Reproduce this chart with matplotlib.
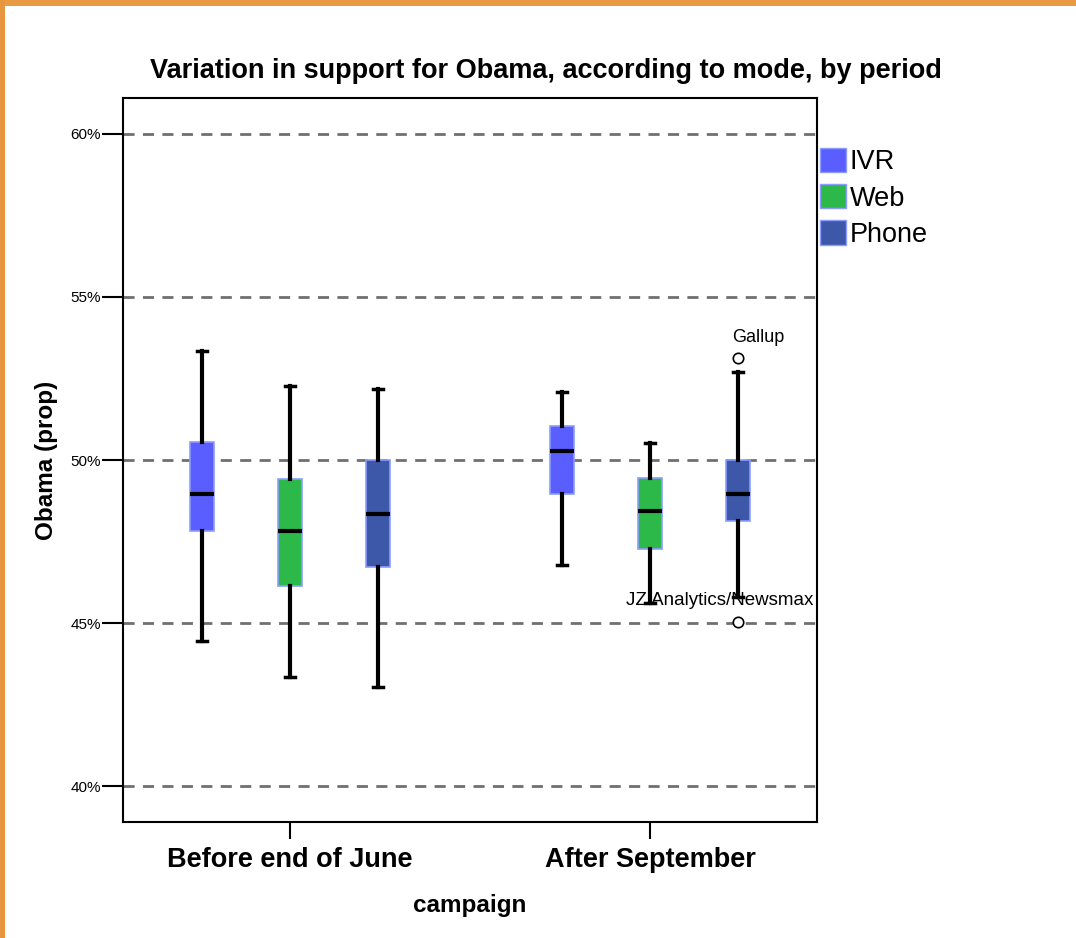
import matplotlib
matplotlib.use("Agg")
import matplotlib.pyplot as plt
from matplotlib.patches import Rectangle, Patch
from matplotlib.ticker import FuncFormatter

plt.rcParams['font.family'] = ['Liberation Sans', 'DejaVu Sans']

# Data (proportion supporting Obama, in %)
periods = ["Before end of June", "After September"]
modes = ["IVR", "Web", "Phone"]
mode_colors = ["#5B5EFF", "#2DB84A", "#3D58A8"]

# per period, per mode: (whisker low, Q1, median, Q3, whisker high)
june_stats = {
    "IVR":   (44.46, 47.81, 48.95, 50.56, 53.33),
    "Web":   (43.34, 46.14, 47.83, 49.42, 52.26),
    "Phone": (43.03, 46.73, 48.33, 50.01, 52.17),
}
sept_stats = {
    "IVR":   (46.78, 48.96, 50.28, 51.04, 52.09),
    "Web":   (45.60, 47.28, 48.43, 49.46, 50.53),
    "Phone": (45.79, 48.12, 48.97, 50.00, 52.69),
}
# labelled outliers: (period index, mode, value, label)
outliers = [
    (1, "Phone", 53.12, "Gallup"),
    (1, "Phone", 45.02, "JZ Analytics/Newsmax"),
]

yticks = [40, 45, 50, 55, 60]

fig = plt.figure(figsize=(10.76, 9.38), dpi=100)
ax = fig.add_axes([123 / 1076, 116 / 938, 694 / 1076, 724 / 938])

offsets = [-0.2444, 0.0, 0.2444]
box_w = 0.067

all_stats = [june_stats, sept_stats]
for pi, stats in enumerate(all_stats):
    for mi, mode in enumerate(modes):
        lo, q1, med, q3, hi = stats[mode]
        fl = [v for (p, m, v, _) in outliers if p == pi and m == mode]
        s = dict(whislo=lo, q1=q1, med=med, q3=q3, whishi=hi, fliers=fl)
        ax.bxp([s], positions=[pi + offsets[mi]], widths=box_w,
               patch_artist=True, showfliers=True, showcaps=True,
               boxprops=dict(facecolor=mode_colors[mi], edgecolor="#8C9CFF", linewidth=1.2),
               medianprops=dict(color="black", linewidth=3),
               whiskerprops=dict(color="black", linewidth=3),
               capprops=dict(color="black", linewidth=2.5),
               capwidths=0.03,
               flierprops=dict(marker="o", markersize=7.5, markerfacecolor="white",
                               markeredgecolor="black", markeredgewidth=1.2),
               zorder=3)

# outlier labels
for (p, m, v, lab) in outliers:
    x = p + offsets[modes.index(m)]
    if v > 50:
        ax.text(x + 0.055, v + 0.65, lab, ha="center", va="center", fontsize=13, zorder=4)
    else:
        ax.text(x - 0.05, v + 0.66, lab, ha="center", va="center", fontsize=13.5, zorder=4)

for yv in yticks:
    ax.axhline(yv, color="#707070", linestyle=(0, (4, 3)), linewidth=2, zorder=1)

ax.set_xlim(-0.464, 1.464)
ax.set_ylim(38.9, 61.1)
ax.set_yticks(yticks)
ax.yaxis.set_major_formatter(FuncFormatter(lambda v, _: f"{v:.0f}%"))
ax.set_xticks([0, 1])
ax.set_xticklabels(periods, fontsize=19.5, fontweight="bold")
ax.tick_params(axis="y", length=15, width=1.5, labelsize=11, pad=1)
ax.tick_params(axis="x", length=12, width=1.5, pad=6)
for sp in ax.spines.values():
    sp.set_linewidth(1.5)

ax.set_ylabel("Obama (prop)", fontsize=17.5, fontweight="bold", labelpad=9)
ax.set_xlabel("campaign", fontsize=17.5, fontweight="bold", labelpad=15)

fig.text(546 / 1076, 1 - 71 / 938, "Variation in support for Obama, according to mode, by period",
         ha="center", va="center", fontsize=19.5, fontweight="bold")

handles = [Patch(facecolor=c, edgecolor="#8C9CFF", label=m) for c, m in zip(mode_colors, modes)]
fig.legend(handles=handles, loc="upper left", bbox_to_anchor=(809 / 1076, 1 - 137 / 938),
           frameon=False, fontsize=19.5, handlelength=0.95, handleheight=1.0,
           handletextpad=0.15, labelspacing=0.33, borderaxespad=0)

# orange frame along the top and left edges
fig.patches.append(Rectangle((0, 1 - 6 / 938), 1, 6 / 938, transform=fig.transFigure,
                             facecolor="#E99A43", edgecolor="none"))
fig.patches.append(Rectangle((0, 0), 5 / 1076, 1, transform=fig.transFigure,
                             facecolor="#E8963E", edgecolor="none"))

fig.savefig("out.png", dpi=100)
